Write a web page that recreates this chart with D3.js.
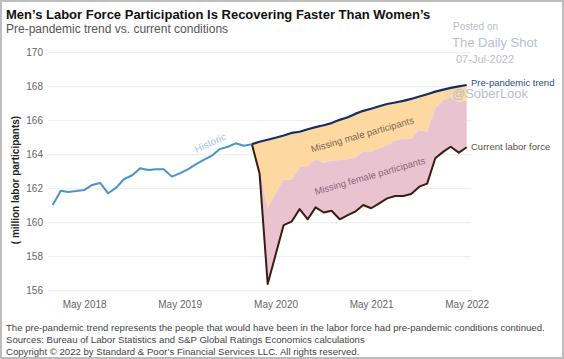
<!DOCTYPE html>
<html><head><meta charset="utf-8">
<script src="https://cdn.jsdelivr.net/npm/d3@7"></script>
<style>body{margin:0;background:#fff} svg{display:block;font-family:"Liberation Sans",Arial,sans-serif}</style>
</head><body>
<svg id="c" width="564" height="359"></svg>
<script>
// ---------- data ----------
const histMonths = ["2018-01","2018-02","2018-03","2018-04","2018-05","2018-06","2018-07","2018-08","2018-09","2018-10","2018-11","2018-12",
  "2019-01","2019-02","2019-03","2019-04","2019-05","2019-06","2019-07","2019-08","2019-09","2019-10","2019-11","2019-12",
  "2020-01","2020-02"];
const historic = [161.04,161.88,161.81,161.86,161.92,162.22,162.34,161.73,162.06,162.57,162.79,163.2,
  163.1,163.14,163.14,162.71,162.9,163.14,163.43,163.69,163.94,164.33,164.47,164.67,
  164.53,164.61];
const pandemicMonths = ["2020-02","2020-03","2020-04","2020-05","2020-06","2020-07","2020-08","2020-09","2020-10","2020-11","2020-12",
  "2021-01","2021-02","2021-03","2021-04","2021-05","2021-06","2021-07","2021-08","2021-09","2021-10","2021-11","2021-12",
  "2022-01","2022-02","2022-03","2022-04","2022-05"];
const prePandemicTrend = [164.62,164.76,164.88,165.0,165.13,165.28,165.35,165.5,165.62,165.73,165.86,
  166.05,166.2,166.4,166.58,166.7,166.85,166.98,167.07,167.17,167.28,167.42,167.56,
  167.71,167.83,167.93,168.02,168.1];
// current labor force + missing female participants (top of pink band)
const withFemaleGap = [164.62,163.2,160.85,161.73,162.55,162.51,163.26,163.33,163.73,163.53,163.65,
  163.69,163.73,163.85,164.18,164.18,164.38,164.57,164.82,164.96,164.96,165.45,165.35,
  166.73,167.22,167.38,167.12,167.18];
const currentLaborForce = [164.6,162.9,156.4,158.1,159.86,160.06,160.8,160.2,160.9,160.6,160.7,
  160.2,160.45,160.65,161.04,160.85,161.14,161.43,161.57,161.57,161.69,162.12,162.3,
  163.79,164.18,164.47,164.12,164.44];
const yTicks = [156,158,160,162,164,166,168,170];
const xTickMonths = ["2018-05","2019-05","2020-05","2021-05","2022-05"];
const title = "Men\u2019s Labor Force Participation Is Recovering Faster Than Women\u2019s";
const subtitle = "Pre-pandemic trend vs. current conditions";
const yLabel = "( million labor participants)";
const footnotes = [
  "The pre-pandemic trend represents the people that would have been in the labor force had pre-pandemic conditions continued.",
  "Sources: Bureau of Labor Statistics and S&P Global Ratings Economics calculations",
  "Copyright \u00a9 2022 by Standard & Poor\u2019s Financial Services LLC. All rights reserved."
];

// ---------- setup ----------
const parse = d3.timeParse("%Y-%m");
const svg = d3.select("#c");
const FONT = '"Liberation Sans",Arial,sans-serif';

const x = d3.scaleTime().domain([parse("2018-01"), parse("2022-05")]).range([52.7, 466.7]);
const y = d3.scaleLinear().domain([156, 170]).range([290.7, 52.7]);
const gridRight = 471, gridLeft = 48;

svg.append("rect").attr("x",1).attr("y",1).attr("width",562).attr("height",357)
  .attr("fill","#fff").attr("stroke","#bdbdbd").attr("stroke-width",2);

// grid
svg.append("g").selectAll("line").data(yTicks).join("line")
  .attr("x1",gridLeft).attr("x2",gridRight)
  .attr("y1",d=>y(d)).attr("y2",d=>y(d))
  .attr("stroke","#ececec").attr("stroke-width",1);

// y axis
const ya = svg.append("g").attr("transform",`translate(${gridLeft},0)`)
  .call(d3.axisLeft(y).tickValues(yTicks).tickSize(0).tickPadding(5).tickFormat(d3.format("d")));
ya.select(".domain").remove();
ya.selectAll("text").attr("fill","#666").attr("font-size",10).attr("font-family",FONT);

// x axis
const xa = svg.append("g").attr("transform",`translate(0,${y(156)+10})`)
  .call(d3.axisBottom(x).tickValues(xTickMonths.map(parse)).tickSize(0).tickPadding(0).tickFormat(d3.timeFormat("%b %Y")));
xa.select(".domain").remove();
xa.selectAll("text").attr("fill","#666").attr("font-size",10).attr("font-family",FONT);

// areas
const pd = pandemicMonths.map((m,i)=>({d:parse(m), t:prePandemicTrend[i], f:withFemaleGap[i], c:currentLaborForce[i]}));
svg.append("path").datum(pd)
  .attr("d", d3.area().x(d=>x(d.d)).y0(d=>y(d.f)).y1(d=>y(d.t)))
  .attr("fill","#fdd9a1");
svg.append("path").datum(pd)
  .attr("d", d3.area().x(d=>x(d.d)).y0(d=>y(d.c)).y1(d=>y(d.f)))
  .attr("fill","#eac3d0");

// lines
const hd = histMonths.map((m,i)=>({d:parse(m), v:historic[i]}));
svg.append("path").datum(hd)
  .attr("d", d3.line().x(d=>x(d.d)).y(d=>y(d.v)))
  .attr("fill","none").attr("stroke","#4a94c6").attr("stroke-width",2).attr("stroke-linejoin","round");
svg.append("path").datum(pd)
  .attr("d", d3.line().x(d=>x(d.d)).y(d=>y(d.c)))
  .attr("fill","none").attr("stroke","#3b1c12").attr("stroke-width",2).attr("stroke-linejoin","round");
svg.append("path").datum(pd)
  .attr("d", d3.line().x(d=>x(d.d)).y(d=>y(d.t)))
  .attr("fill","none").attr("stroke","#132d66").attr("stroke-width",2.2).attr("stroke-linejoin","round");

// annotations
function rotText(txt, cx, cy, ang, size, color){
  svg.append("text").attr("transform",`translate(${cx},${cy}) rotate(${ang})`)
    .attr("text-anchor","middle").attr("dominant-baseline","middle")
    .attr("font-size",size).attr("fill",color).attr("font-family",FONT).text(txt);
}
rotText("Historic", 210.5, 143.5, -25, 10, "#a6c8e3");
rotText("Missing male participants", 362.5, 135.3, -16, 9.5, "#7d6552");
rotText("Missing female participants", 370, 176.7, -16, 9.5, "#8d667a");

// watermark (drawn before labels)
const wm = [["Posted on",453,30,10],["The Daily Shot",452,47,13],["07-Jul-2022",456,63,11],["@SoberLook",452,98,13]];
svg.append("g").selectAll("text").data(wm).join("text")
  .attr("x",d=>d[1]).attr("y",d=>d[2]).attr("font-size",d=>d[3]).attr("fill","#b9bdcf")
  .attr("font-family",'Arial,"Liberation Sans",sans-serif').text(d=>d[0]);

svg.append("text").attr("x",471).attr("y",83).attr("dominant-baseline","middle")
  .attr("font-size",9.5).attr("fill","#2e4a86").attr("font-family",FONT).text("Pre-pandemic trend");
svg.append("text").attr("x",471).attr("y",147).attr("dominant-baseline","middle")
  .attr("font-size",9.5).attr("fill","#5e4c46").attr("font-family",FONT).text("Current labor force");

// titles
svg.append("text").attr("x",6).attr("y",19).attr("font-size",13).attr("font-weight","bold")
  .attr("fill","#111").attr("font-family",FONT).text(title);
svg.append("text").attr("x",6).attr("y",33).attr("font-size",12)
  .attr("fill","#555").attr("font-family",FONT).text(subtitle);

// y label
svg.append("text").attr("transform","translate(19,180) rotate(-90)").attr("text-anchor","middle")
  .attr("font-size",10).attr("font-weight","bold").attr("fill","#222").attr("font-family",FONT).text(yLabel);

// footnotes
svg.append("g").selectAll("text").data(footnotes).join("text")
  .attr("x",6).attr("y",(d,i)=>331+i*12).attr("font-size",9.6).attr("fill","#444").attr("font-family",FONT).text(d=>d);
</script>
</body></html>
